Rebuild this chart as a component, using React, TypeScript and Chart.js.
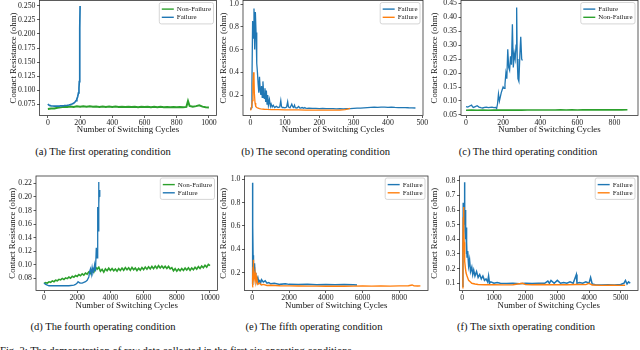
import React, { useEffect, useRef } from "react";
import { Chart, registerables } from "chart.js";
Chart.register(...registerables);

const SERIF = '"Liberation Serif", "Times New Roman", Times, serif';
const BLUE = "#1f77b4";
const ORANGE = "#ff7f0e";
const GREEN = "#2ca02c";

const X_TITLE = "Number of Switching Cycles";
const Y_TITLE = "Contact Resistance (ohm)";

// ---------- (a) first operating condition ----------
const aGreenX = [0,20,40,60,80,100,120,140,160,180,200,220,240,260,280,300,320,340,360,380,400,420,440,460,480,500,520,540,560,580,600,620,640,660,680,700,720,740,760,780,800,820,840,860,870,880,900,920,940,960,980,1000];
const aGreenY = [0.0660,0.0668,0.0672,0.0685,0.0690,0.0702,0.0696,0.0707,0.0699,0.0708,0.0700,0.0710,0.0702,0.0709,0.0700,0.0707,0.0699,0.0706,0.0698,0.0705,0.0697,0.0704,0.0696,0.0703,0.0697,0.0702,0.0695,0.0701,0.0694,0.0702,0.0696,0.0703,0.0694,0.0700,0.0693,0.0699,0.0692,0.0698,0.0691,0.0697,0.0692,0.0698,0.0693,0.0699,0.0805,0.0715,0.0700,0.0712,0.0728,0.0703,0.0694,0.0690];
const aBlueX = [0,5,10,20,30,40,50,60,70,80,90,100,110,120,130,140,150,160,170,175,180,185,190,193,195,197,198,199,200];
const aBlueY = [0.0750,0.0735,0.0725,0.0718,0.0715,0.0713,0.0712,0.0713,0.0714,0.0716,0.0718,0.0720,0.0723,0.0727,0.0733,0.0740,0.0750,0.0765,0.0790,0.0810,0.0840,0.0880,0.0950,0.1030,0.1150,0.1400,0.1700,0.2100,0.2500];
const aXTicks = [0,200,400,600,800,1000];
const aXLabels = ["0","200","400","600","800","1000"];
const aYTicks = [0.075,0.1,0.125,0.15,0.175,0.2,0.225,0.25];
const aYLabels = ["0.075","0.100","0.125","0.150","0.175","0.200","0.225","0.250"];

// ---------- (b) second operating condition ----------
const bBlueX = [0,2,4,6,8,10,12,14,16,18,20,22,24,26,28,30,32,34,36,38,40,42,44,46,48,50,52,55,58,60,63,66,70,75,80,85,88,90,92,95,100,105,108,110,112,115,120,123,125,128,130,135,140,143,145,150,155,158,160,165,170,180,190,200,210,220,230,240,250,260,270,280,290,300,310,320,330,340,350,360,370,380,390,400,410,420,430,440,450,460,470,480];
const bBlueY = [0.07,0.09,0.30,0.85,0.70,0.96,0.60,0.93,0.75,0.48,0.40,0.30,0.22,0.36,0.25,0.20,0.28,0.18,0.32,0.22,0.17,0.26,0.14,0.24,0.12,0.20,0.11,0.16,0.10,0.12,0.095,0.11,0.09,0.10,0.09,0.095,0.15,0.10,0.09,0.092,0.088,0.095,0.14,0.10,0.09,0.088,0.12,0.095,0.09,0.11,0.088,0.086,0.10,0.087,0.085,0.09,0.084,0.09,0.085,0.083,0.084,0.082,0.083,0.081,0.082,0.080,0.081,0.080,0.079,0.080,0.079,0.080,0.081,0.083,0.085,0.084,0.087,0.089,0.091,0.093,0.092,0.094,0.093,0.092,0.094,0.091,0.090,0.089,0.090,0.088,0.087,0.086];
const bOrangeX = [0,3,5,7,9,10,11,13,15,18,22,26,30,40,50,60,80,100,120,140,160,180,200,220,240,260,275,285,290];
const bOrangeY = [0.065,0.09,0.15,0.30,0.40,0.36,0.22,0.13,0.10,0.09,0.085,0.08,0.078,0.075,0.073,0.072,0.071,0.070,0.069,0.069,0.068,0.068,0.068,0.067,0.068,0.068,0.072,0.078,0.082];
const bXTicks = [0,100,200,300,400,500];
const bXLabels = ["0","100","200","300","400","500"];
const bYTicks = [0.2,0.4,0.6,0.8,1.0];
const bYLabels = ["0.2","0.4","0.6","0.8","1.0"];

// ---------- (c) third operating condition ----------
const cBlueX = [0,10,20,30,35,40,50,60,70,80,90,100,110,120,130,140,150,160,165,170,175,180,185,190,195,200,205,210,215,220,225,230,235,240,245,250,255,260,265,270,273,276,280,285,290,295,300,304];
const cBlueY = [0.080,0.078,0.082,0.085,0.079,0.077,0.080,0.083,0.078,0.076,0.075,0.077,0.078,0.076,0.077,0.078,0.076,0.077,0.073,0.090,0.125,0.100,0.115,0.130,0.140,0.150,0.145,0.160,0.200,0.180,0.285,0.220,0.210,0.260,0.230,0.375,0.220,0.270,0.250,0.300,0.435,0.250,0.180,0.170,0.260,0.330,0.250,0.245];
const cGreenX = [0,30,60,90,120,150,180,210,240,270,300,330,360,390,420,450,480,510,540,570,600,630,660,690,720,750,780,810,840,870];
const cGreenY = [0.0670,0.0673,0.0669,0.0672,0.0670,0.0673,0.0671,0.0674,0.0672,0.0675,0.0673,0.0676,0.0675,0.0678,0.0676,0.0679,0.0677,0.0680,0.0678,0.0681,0.0679,0.0682,0.0680,0.0682,0.0681,0.0683,0.0681,0.0684,0.0682,0.0684];
const cXTicks = [0,200,400,600,800];
const cXLabels = ["0","200","400","600","800"];
const cYTicks = [0.05,0.1,0.15,0.2,0.25,0.3,0.35,0.4,0.45];
const cYLabels = ["0.05","0.10","0.15","0.20","0.25","0.30","0.35","0.40","0.45"];

// ---------- (d) fourth operating condition ----------
const dGreenX = [0,100,200,300,400,500,600,700,800,900,1000,1100,1200,1300,1400,1500,1600,1700,1800,1900,2000,2100,2200,2300,2400,2500,2600,2700,2800,2900,3000,3100,3200,3300,3400,3500,3600,3700,3800,3900,4000,4100,4200,4300,4400,4500,4600,4700,4800,4900,5000,5100,5200,5300,5400,5500,5600,5700,5800,5900,6000,6100,6200,6300,6400,6500,6600,6700,6800,6900,7000,7100,7200,7300,7400,7500,7600,7700,7800,7900,8000,8100,8200,8300,8400,8500,8600,8700,8800,8900,9000,9100,9200,9300,9400,9500,9600,9700,9800,9900,10000];
const dGreenY = [0.0722,0.0735,0.0728,0.0748,0.0741,0.0762,0.0750,0.0772,0.0764,0.0785,0.0776,0.0798,0.0782,0.0806,0.0795,0.0818,0.0802,0.0830,0.0815,0.0842,0.0828,0.0855,0.0838,0.0866,0.0848,0.0878,0.0862,0.0895,0.0872,0.0912,0.0890,0.0968,0.0935,0.0962,0.0905,0.0932,0.0892,0.0940,0.0912,0.0948,0.0915,0.0945,0.0910,0.0938,0.0905,0.0942,0.0915,0.0950,0.0918,0.0958,0.0925,0.0955,0.0918,0.0960,0.0925,0.0952,0.0915,0.0948,0.0920,0.0958,0.0928,0.0965,0.0935,0.0970,0.0938,0.0975,0.0942,0.0980,0.0948,0.0985,0.0952,0.0982,0.0950,0.0978,0.0945,0.0975,0.0940,0.0958,0.0912,0.0942,0.0905,0.0938,0.0910,0.0945,0.0915,0.0950,0.0922,0.0955,0.0918,0.0952,0.0925,0.0962,0.0935,0.0972,0.0945,0.0982,0.0955,0.0992,0.0965,0.1005,0.0985];
const dBlueX = [0,100,200,300,500,800,1000,1200,1500,1800,1900,2000,2050,2100,2200,2300,2400,2500,2600,2700,2750,2800,2850,2900,2950,3000,3050,3100,3150,3200,3220,3250,3270,3290,3310,3330,3350,3370];
const dBlueY = [0.073,0.071,0.070,0.069,0.069,0.069,0.069,0.069,0.069,0.070,0.071,0.073,0.075,0.074,0.073,0.073,0.074,0.075,0.077,0.082,0.090,0.094,0.086,0.096,0.088,0.092,0.100,0.090,0.125,0.110,0.130,0.185,0.150,0.222,0.190,0.210,0.200,0.205];
const dXTicks = [0,2000,4000,6000,8000,10000];
const dXLabels = ["0","2000","4000","6000","8000","10000"];
const dYTicks = [0.08,0.1,0.12,0.14,0.16,0.18,0.2,0.22];
const dYLabels = ["0.08","0.10","0.12","0.14","0.16","0.18","0.20","0.22"];

// ---------- (e) fifth operating condition ----------
const eBlueX = [0,10,20,30,40,50,60,80,100,120,150,180,200,250,300,350,400,450,500,600,700,800,900,1000,1200,1500,1800,2000,2500,3000,3500,4000,4500,5000,5500,5700];
const eBlueY = [0.10,0.40,0.97,0.60,0.35,0.30,0.33,0.25,0.22,0.28,0.18,0.20,0.15,0.14,0.16,0.12,0.13,0.11,0.14,0.12,0.13,0.11,0.115,0.105,0.11,0.10,0.105,0.10,0.098,0.10,0.097,0.099,0.096,0.098,0.096,0.095];
const eOrangeX = [0,20,40,50,60,80,100,150,200,250,300,400,500,600,800,1000,1500,2000,2500,3000,3500,4000,4500,5000,5500,6000,6500,7000,7500,8000,8500,8700,8800,9000,9150];
const eOrangeY = [0.08,0.15,0.25,0.31,0.22,0.18,0.14,0.20,0.12,0.15,0.10,0.11,0.095,0.10,0.09,0.092,0.088,0.087,0.086,0.085,0.085,0.084,0.085,0.084,0.085,0.086,0.085,0.086,0.085,0.087,0.088,0.095,0.087,0.086,0.087];
const eXTicks = [0,2000,4000,6000,8000];
const eXLabels = ["0","2000","4000","6000","8000"];
const eYTicks = [0.2,0.4,0.6,0.8,1.0];
const eYLabels = ["0.2","0.4","0.6","0.8","1.0"];

// ---------- (f) sixth operating condition ----------
const fBlueX = [0,20,30,40,50,60,70,80,90,100,110,120,130,140,150,170,200,230,260,300,330,360,400,450,500,550,600,650,700,750,800,830,860,900,1000,1100,1200,1400,1600,1800,2000,2200,2400,2600,2700,2750,2800,2900,3000,3100,3200,3300,3400,3500,3600,3620,3700,3800,3900,4000,4050,4100,4200,4400,4600,4800,5000,5100,5150,5200,5250,5300];
const fBlueY = [0.08,0.30,0.65,0.50,0.60,0.55,0.79,0.60,0.45,0.60,0.40,0.48,0.30,0.38,0.28,0.32,0.22,0.26,0.18,0.21,0.16,0.19,0.15,0.18,0.14,0.16,0.13,0.15,0.12,0.13,0.11,0.15,0.10,0.11,0.10,0.105,0.10,0.098,0.10,0.097,0.10,0.098,0.10,0.10,0.115,0.10,0.12,0.10,0.12,0.10,0.105,0.10,0.11,0.10,0.16,0.10,0.105,0.10,0.11,0.10,0.14,0.095,0.09,0.088,0.09,0.088,0.092,0.10,0.12,0.095,0.11,0.10];
const fOrangeX = [0,20,30,40,50,60,70,80,100,120,150,200,250,300,400,500,700,1000,1300,1600,1900,2000,2200,2500,2800,3000,3300,3600,3900,4000,4100,4400,4700,5000,5140];
const fOrangeY = [0.07,0.35,0.55,0.62,0.45,0.38,0.30,0.25,0.20,0.17,0.15,0.12,0.11,0.10,0.095,0.092,0.090,0.091,0.089,0.090,0.100,0.091,0.090,0.092,0.090,0.091,0.090,0.092,0.091,0.100,0.088,0.086,0.087,0.086,0.087];
const fXTicks = [0,1000,2000,3000,4000,5000];
const fXLabels = ["0","1000","2000","3000","4000","5000"];
const fYTicks = [0.1,0.2,0.3,0.4,0.5,0.6,0.7,0.8];
const fYLabels = ["0.1","0.2","0.3","0.4","0.5","0.6","0.7","0.8"];

const CAPTIONS = [
  "(a) The first operating condition",
  "(b) The second operating condition",
  "(c) The third operating condition",
  "(d) The fourth operating condition",
  "(e) The fifth operating condition",
  "(f) The sixth operating condition",
];
const FIG_CAPTION = "Fig. 3: The demonstration of raw data collected in the first six operating conditions.";

type Series = { label: string; color: string; x: number[]; y: number[]; width: number };
type Panel = {
  series: Series[];
  xMin: number; xMax: number; yMin: number; yMax: number;
  xTicks: number[]; xLabels: string[]; yTicks: number[]; yLabels: string[];
  plot: { l: number; t: number; r: number; b: number };
  yTitleX: number; xTitleY: number;
  caption: string; capX: number; capTop: number;
};

const PANELS: Panel[] = [
  {
    series: [
      { label: "Non-Failure", color: GREEN, x: aGreenX, y: aGreenY, width: 2 },
      { label: "Failure", color: BLUE, x: aBlueX, y: aBlueY, width: 1.7 },
    ],
    xMin: -52, xMax: 1047, yMin: 0.0545, yMax: 0.2598,
    xTicks: aXTicks, xLabels: aXLabels, yTicks: aYTicks, yLabels: aYLabels,
    plot: { l: 39.5, t: 0.5, r: 216.5, b: 115.5 }, yTitleX: 14, xTitleY: 130,
    caption: CAPTIONS[0], capX: 103, capTop: 147,
  },
  {
    series: [
      { label: "Failure", color: BLUE, x: bBlueX, y: bBlueY, width: 1.3 },
      { label: "Failure", color: ORANGE, x: bOrangeX, y: bOrangeY, width: 1.3 },
    ],
    xMin: -22, xMax: 502, yMin: 0.02, yMax: 1.031,
    xTicks: bXTicks, xLabels: bXLabels, yTicks: bYTicks, yLabels: bYLabels,
    plot: { l: 243, t: 0.5, r: 423, b: 115.5 }, yTitleX: 223.3, xTitleY: 130,
    caption: CAPTIONS[1], capX: 315.7, capTop: 147,
  },
  {
    series: [
      { label: "Failure", color: BLUE, x: cBlueX, y: cBlueY, width: 1.3 },
      { label: "Non-Failure", color: GREEN, x: cGreenX, y: cGreenY, width: 1.6 },
    ],
    xMin: -27, xMax: 927, yMin: 0.048, yMax: 0.46,
    xTicks: cXTicks, xLabels: cXLabels, yTicks: cYTicks, yLabels: cYLabels,
    plot: { l: 461, t: 0.5, r: 638, b: 115.5 }, yTitleX: 434.5, xTitleY: 130,
    caption: CAPTIONS[2], capX: 528, capTop: 147,
  },
  {
    series: [
      { label: "Non-Failure", color: GREEN, x: dGreenX, y: dGreenY, width: 1.6 },
      { label: "Failure", color: BLUE, x: dBlueX, y: dBlueY, width: 1.3 },
    ],
    xMin: -482, xMax: 10452, yMin: 0.062, yMax: 0.2308,
    xTicks: dXTicks, xLabels: dXLabels, yTicks: dYTicks, yLabels: dYLabels,
    plot: { l: 36, t: 176, r: 217.5, b: 290.5 }, yTitleX: 13, xTitleY: 305.7,
    caption: CAPTIONS[3], capX: 103, capTop: 322,
  },
  {
    series: [
      { label: "Failure", color: BLUE, x: eBlueX, y: eBlueY, width: 1.5 },
      { label: "Failure", color: ORANGE, x: eOrangeX, y: eOrangeY, width: 1.4 },
    ],
    xMin: -424, xMax: 9562, yMin: 0.0475, yMax: 1.028,
    xTicks: eXTicks, xLabels: eXLabels, yTicks: eYTicks, yLabels: eYLabels,
    plot: { l: 244.5, t: 176, r: 428, b: 290.5 }, yTitleX: 223.3, xTitleY: 305.7,
    caption: CAPTIONS[4], capX: 314, capTop: 322,
  },
  {
    series: [
      { label: "Failure", color: BLUE, x: fBlueX, y: fBlueY, width: 1.5 },
      { label: "Failure", color: ORANGE, x: fOrangeX, y: fOrangeY, width: 1.4 },
    ],
    xMin: -88, xMax: 5546, yMin: 0.0509, yMax: 0.832,
    xTicks: fXTicks, xLabels: fXLabels, yTicks: fYTicks, yLabels: fYLabels,
    plot: { l: 459.5, t: 176, r: 638, b: 290.5 }, yTitleX: 435, xTitleY: 305.7,
    caption: CAPTIONS[5], capX: 526, capTop: 322,
  },
];

const TITLE_SIZE = 8.8;
const TITLE_LH = TITLE_SIZE * 1.2;
const TICK_SIZE = 7.8;
const LEGEND_SIZE = 7;

const framePlugin = {
  id: "frame",
  afterDatasetsDraw(chart: any) {
    const { ctx, chartArea } = chart;
    ctx.save();
    ctx.strokeStyle = "#333";
    ctx.lineWidth = 0.8;
    ctx.strokeRect(chartArea.left, chartArea.top, chartArea.right - chartArea.left, chartArea.bottom - chartArea.top);
    ctx.restore();
  },
};

const boxLegendPlugin = {
  id: "boxLegend",
  afterDraw(chart: any) {
    const { ctx, chartArea } = chart;
    const items = chart.data.datasets.map((d: any) => ({ label: d.label, color: d.borderColor }));
    ctx.save();
    ctx.font = `${LEGEND_SIZE}px ${SERIF}`;
    const tw = Math.max(...items.map((i: any) => ctx.measureText(i.label).width));
    const lineLen = 12, gap = 3, padX = 2.5, padY = 2, rowH = 8.2;
    const w = padX + lineLen + gap + tw + padX;
    const h = padY * 2 + rowH * items.length + 1;
    const x = chartArea.right - 3 - w;
    const y = chartArea.top + 2;
    const r = 2;
    ctx.beginPath();
    ctx.moveTo(x + r, y);
    ctx.lineTo(x + w - r, y);
    ctx.quadraticCurveTo(x + w, y, x + w, y + r);
    ctx.lineTo(x + w, y + h - r);
    ctx.quadraticCurveTo(x + w, y + h, x + w - r, y + h);
    ctx.lineTo(x + r, y + h);
    ctx.quadraticCurveTo(x, y + h, x, y + h - r);
    ctx.lineTo(x, y + r);
    ctx.quadraticCurveTo(x, y, x + r, y);
    ctx.closePath();
    ctx.fillStyle = "rgba(255,255,255,0.85)";
    ctx.fill();
    ctx.strokeStyle = "#cccccc";
    ctx.lineWidth = 0.8;
    ctx.stroke();
    items.forEach((it: any, i: number) => {
      const cy = y + padY + rowH * (i + 0.5) + 0.5;
      ctx.strokeStyle = it.color;
      ctx.lineWidth = 1.4;
      ctx.beginPath();
      ctx.moveTo(x + padX, cy);
      ctx.lineTo(x + padX + lineLen, cy);
      ctx.stroke();
      ctx.fillStyle = "#222";
      ctx.textBaseline = "middle";
      ctx.textAlign = "left";
      ctx.fillText(it.label, x + padX + lineLen + gap, cy + 0.3);
    });
    ctx.restore();
  },
};

function PanelChart({ p }: { p: Panel }) {
  const ref = useRef<HTMLCanvasElement | null>(null);
  const cx = Math.floor(p.yTitleX - TITLE_LH / 2 - 1);
  const padL = p.yTitleX - TITLE_LH / 2 - cx;
  const yAxisW = p.plot.l - (cx + padL);
  const cy = Math.floor(p.plot.t - 8);
  const padT = p.plot.t - cy;
  const cw = Math.ceil(p.plot.r + 14 - cx);
  const padR = cx + cw - p.plot.r;
  const xAxisH = p.xTitleY + TITLE_LH / 2 - p.plot.b;
  const ch = Math.ceil(p.plot.b + xAxisH + 2 - cy);
  const padB = cy + ch - (p.plot.b + xAxisH);

  useEffect(() => {
    if (!ref.current) return;
    const n = p.series.length;
    const tickFont = { family: SERIF, size: TICK_SIZE };
    const titleFont = { family: SERIF, size: TITLE_SIZE, lineHeight: 1.2 };
    const gridCfg = { display: true, drawOnChartArea: false, drawTicks: true, tickLength: 2.5, color: "#333", lineWidth: 0.8 };
    const chart = new Chart(ref.current, {
      type: "line",
      data: {
        datasets: p.series.map((s, i) => ({
          label: s.label,
          data: s.x.map((xv, k) => ({ x: xv, y: s.y[k] })),
          borderColor: s.color,
          backgroundColor: s.color,
          borderWidth: s.width,
          pointRadius: 0,
          tension: 0,
          fill: false,
          order: n - i,
        })),
      },
      options: {
        animation: false,
        responsive: false,
        devicePixelRatio: 1,
        layout: { padding: { left: padL, top: padT, right: padR, bottom: padB } },
        plugins: { legend: { display: false }, tooltip: { enabled: false } },
        scales: {
          x: {
            type: "linear",
            min: p.xMin,
            max: p.xMax,
            afterBuildTicks: (s: any) => { s.ticks = p.xTicks.map((v) => ({ value: v })); },
            afterFit: (s: any) => { s.height = xAxisH; },
            ticks: { font: tickFont, color: "#222", padding: 0, autoSkip: false, maxRotation: 0, callback: (_v: any, i: number) => p.xLabels[i] },
            grid: gridCfg,
            border: { display: false },
            title: { display: true, text: X_TITLE, font: titleFont, color: "#111", padding: 0 },
          },
          y: {
            type: "linear",
            min: p.yMin,
            max: p.yMax,
            afterBuildTicks: (s: any) => { s.ticks = p.yTicks.map((v) => ({ value: v })); },
            afterFit: (s: any) => { s.width = yAxisW; },
            ticks: { font: tickFont, color: "#222", padding: 1.5, autoSkip: false, callback: (_v: any, i: number) => p.yLabels[i] },
            grid: gridCfg,
            border: { display: false },
            title: { display: true, text: Y_TITLE, font: titleFont, color: "#111", padding: 0 },
          },
        },
      },
      plugins: [framePlugin, boxLegendPlugin],
    } as any);
    return () => chart.destroy();
  }, []);

  return (
    <canvas
      ref={ref}
      width={cw}
      height={ch}
      style={{ position: "absolute", left: cx, top: cy, width: cw, height: ch }}
    />
  );
}

export default function App() {
  return (
    <div style={{ position: "fixed", left: 0, top: 0, width: 640, height: 350, overflow: "hidden", background: "#fff" }}>
      {PANELS.map((p, i) => (
        <PanelChart key={i} p={p} />
      ))}
      {PANELS.map((p, i) => (
        <div
          key={"c" + i}
          style={{
            position: "absolute", left: p.capX - 110, top: p.capTop, width: 220, textAlign: "center",
            fontFamily: SERIF, fontSize: 10.6, lineHeight: "10.6px", color: "#111", whiteSpace: "nowrap",
          }}
        >
          {p.caption}
        </div>
      ))}
      <div
        style={{
          position: "absolute", left: 0, top: 346, fontFamily: SERIF, fontSize: 10.6, lineHeight: "10.6px",
          color: "#111", whiteSpace: "nowrap",
        }}
      >
        {FIG_CAPTION}
      </div>
    </div>
  );
}
